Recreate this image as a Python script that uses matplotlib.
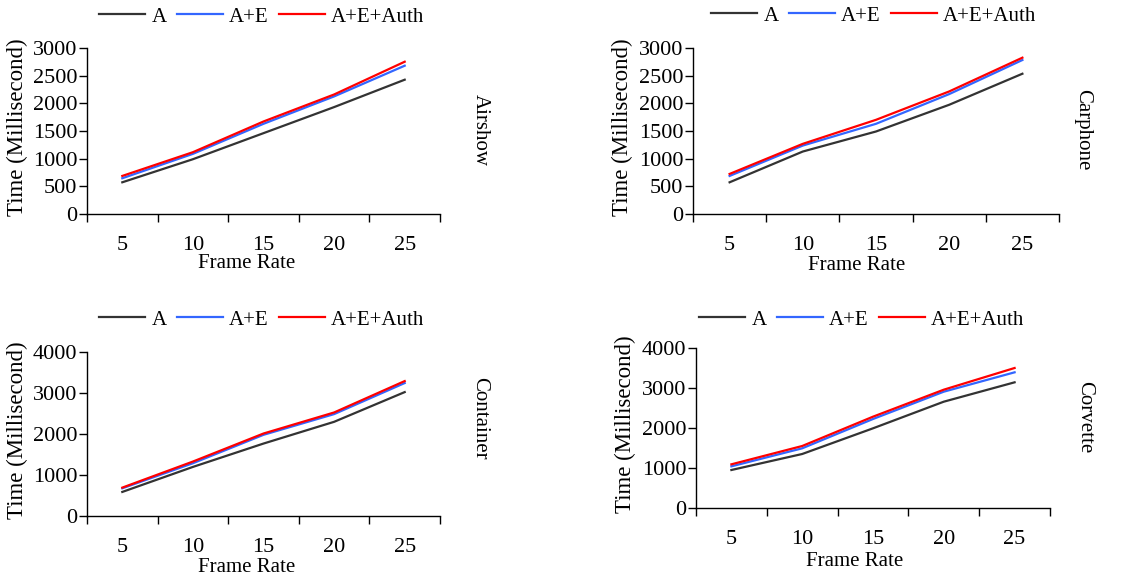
import matplotlib
matplotlib.use("Agg")
import matplotlib.pyplot as plt
import numpy as np

plt.rcParams['font.family'] = ['Liberation Serif', 'DejaVu Serif']

frame_rates = ["5", "10", "15", "20", "25"]
series_names = ["A", "A+E", "A+E+Auth"]
series_colors = ["#333333", "#3366FF", "#FF0000"]

airshow_A = [573, 990, 1461, 1932, 2427]
airshow_AE = [646, 1087, 1630, 2125, 2680]
airshow_AEA = [688, 1117, 1672, 2160, 2752]

carphone_A = [573, 1129, 1491, 1974, 2535]
carphone_AE = [688, 1237, 1630, 2167, 2783]
carphone_AEA = [724, 1268, 1702, 2215, 2825]

container_A = [587, 1197, 1767, 2297, 3022]
container_AE = [676, 1287, 1980, 2485, 3243]
container_AEA = [692, 1328, 2012, 2525, 3291]

corvette_A = [950, 1350, 1992, 2658, 3142]
corvette_AE = [1042, 1492, 2225, 2908, 3392]
corvette_AEA = [1092, 1550, 2283, 2958, 3500]

W, H = 1131, 580
fig = plt.figure(figsize=(W / 100, H / 100), dpi=100)

def px(x, y):
    return x / W, 1 - y / H

panels = [
    ("Airshow", [airshow_A, airshow_AE, airshow_AEA], (87, 440, 214, 48), 3000, 500, 17, (247, 264), (480, 130), (262, 17)),
    ("Carphone", [carphone_A, carphone_AE, carphone_AEA], (693, 1059, 214, 48), 3000, 500, 622, (857, 266), (1083, 130), (874, 16)),
    ("Container", [container_A, container_AE, container_AEA], (87, 440, 516, 352), 4000, 1000, 17, (247, 568), (480, 418), (262, 320)),
    ("Corvette", [corvette_A, corvette_AE, corvette_AEA], (696, 1050, 508, 348), 4000, 1000, 625, (855, 561), (1085, 417), (862, 320)),
]

fs = 15
tfs = 16
for name, data, (l, r, b, t), ymax, ystep, ylx, xl, nm, lg in panels:
    ax = fig.add_axes([l / W, 1 - b / H, (r - l) / W, (b - t) / H])
    x = np.arange(1, len(frame_rates) + 1)
    for vals, lab, col in zip(data, series_names, series_colors):
        ax.plot(x, vals, color=col, lw=1.6, label=lab, clip_on=False)
    ax.set_xlim(0.5, len(frame_rates) + 0.5)
    ax.set_ylim(0, ymax)
    ax.set_yticks(np.arange(0, ymax + 1, ystep))
    ax.set_xticks(np.arange(0.5, len(frame_rates) + 1, 1))
    ax.set_xticklabels([])
    ax.set_xticks(x, minor=True)
    ax.set_xticklabels(frame_rates, minor=True)
    ax.tick_params(axis='x', which='major', direction='out', length=6, width=1)
    ax.tick_params(axis='x', which='minor', length=0, pad=16, labelsize=tfs)
    ax.tick_params(axis='y', direction='out', length=6, width=1, pad=1, labelsize=tfs)
    for s in ['top', 'right']:
        ax.spines[s].set_visible(False)
    for s in ['left', 'bottom']:
        ax.spines[s].set_linewidth(1)
    fig.text(*px(ylx, (b + t) / 2 - 4), "Time (Millisecond)", rotation=90, ha='center', va='center', fontsize=16.5)
    fig.text(*px(*xl), "Frame Rate", ha='center', va='center', fontsize=fs)
    fig.text(*px(*nm), name, rotation=-90, ha='center', va='center', fontsize=fs)
    fig.legend(handles=ax.get_lines(), labels=series_names, loc='center',
               bbox_to_anchor=px(*lg), ncol=3, frameon=False, fontsize=fs,
               handlelength=2.2, handletextpad=0.3, columnspacing=0.5,
               borderaxespad=0, borderpad=0)

fig.savefig("out.png", dpi=100)
